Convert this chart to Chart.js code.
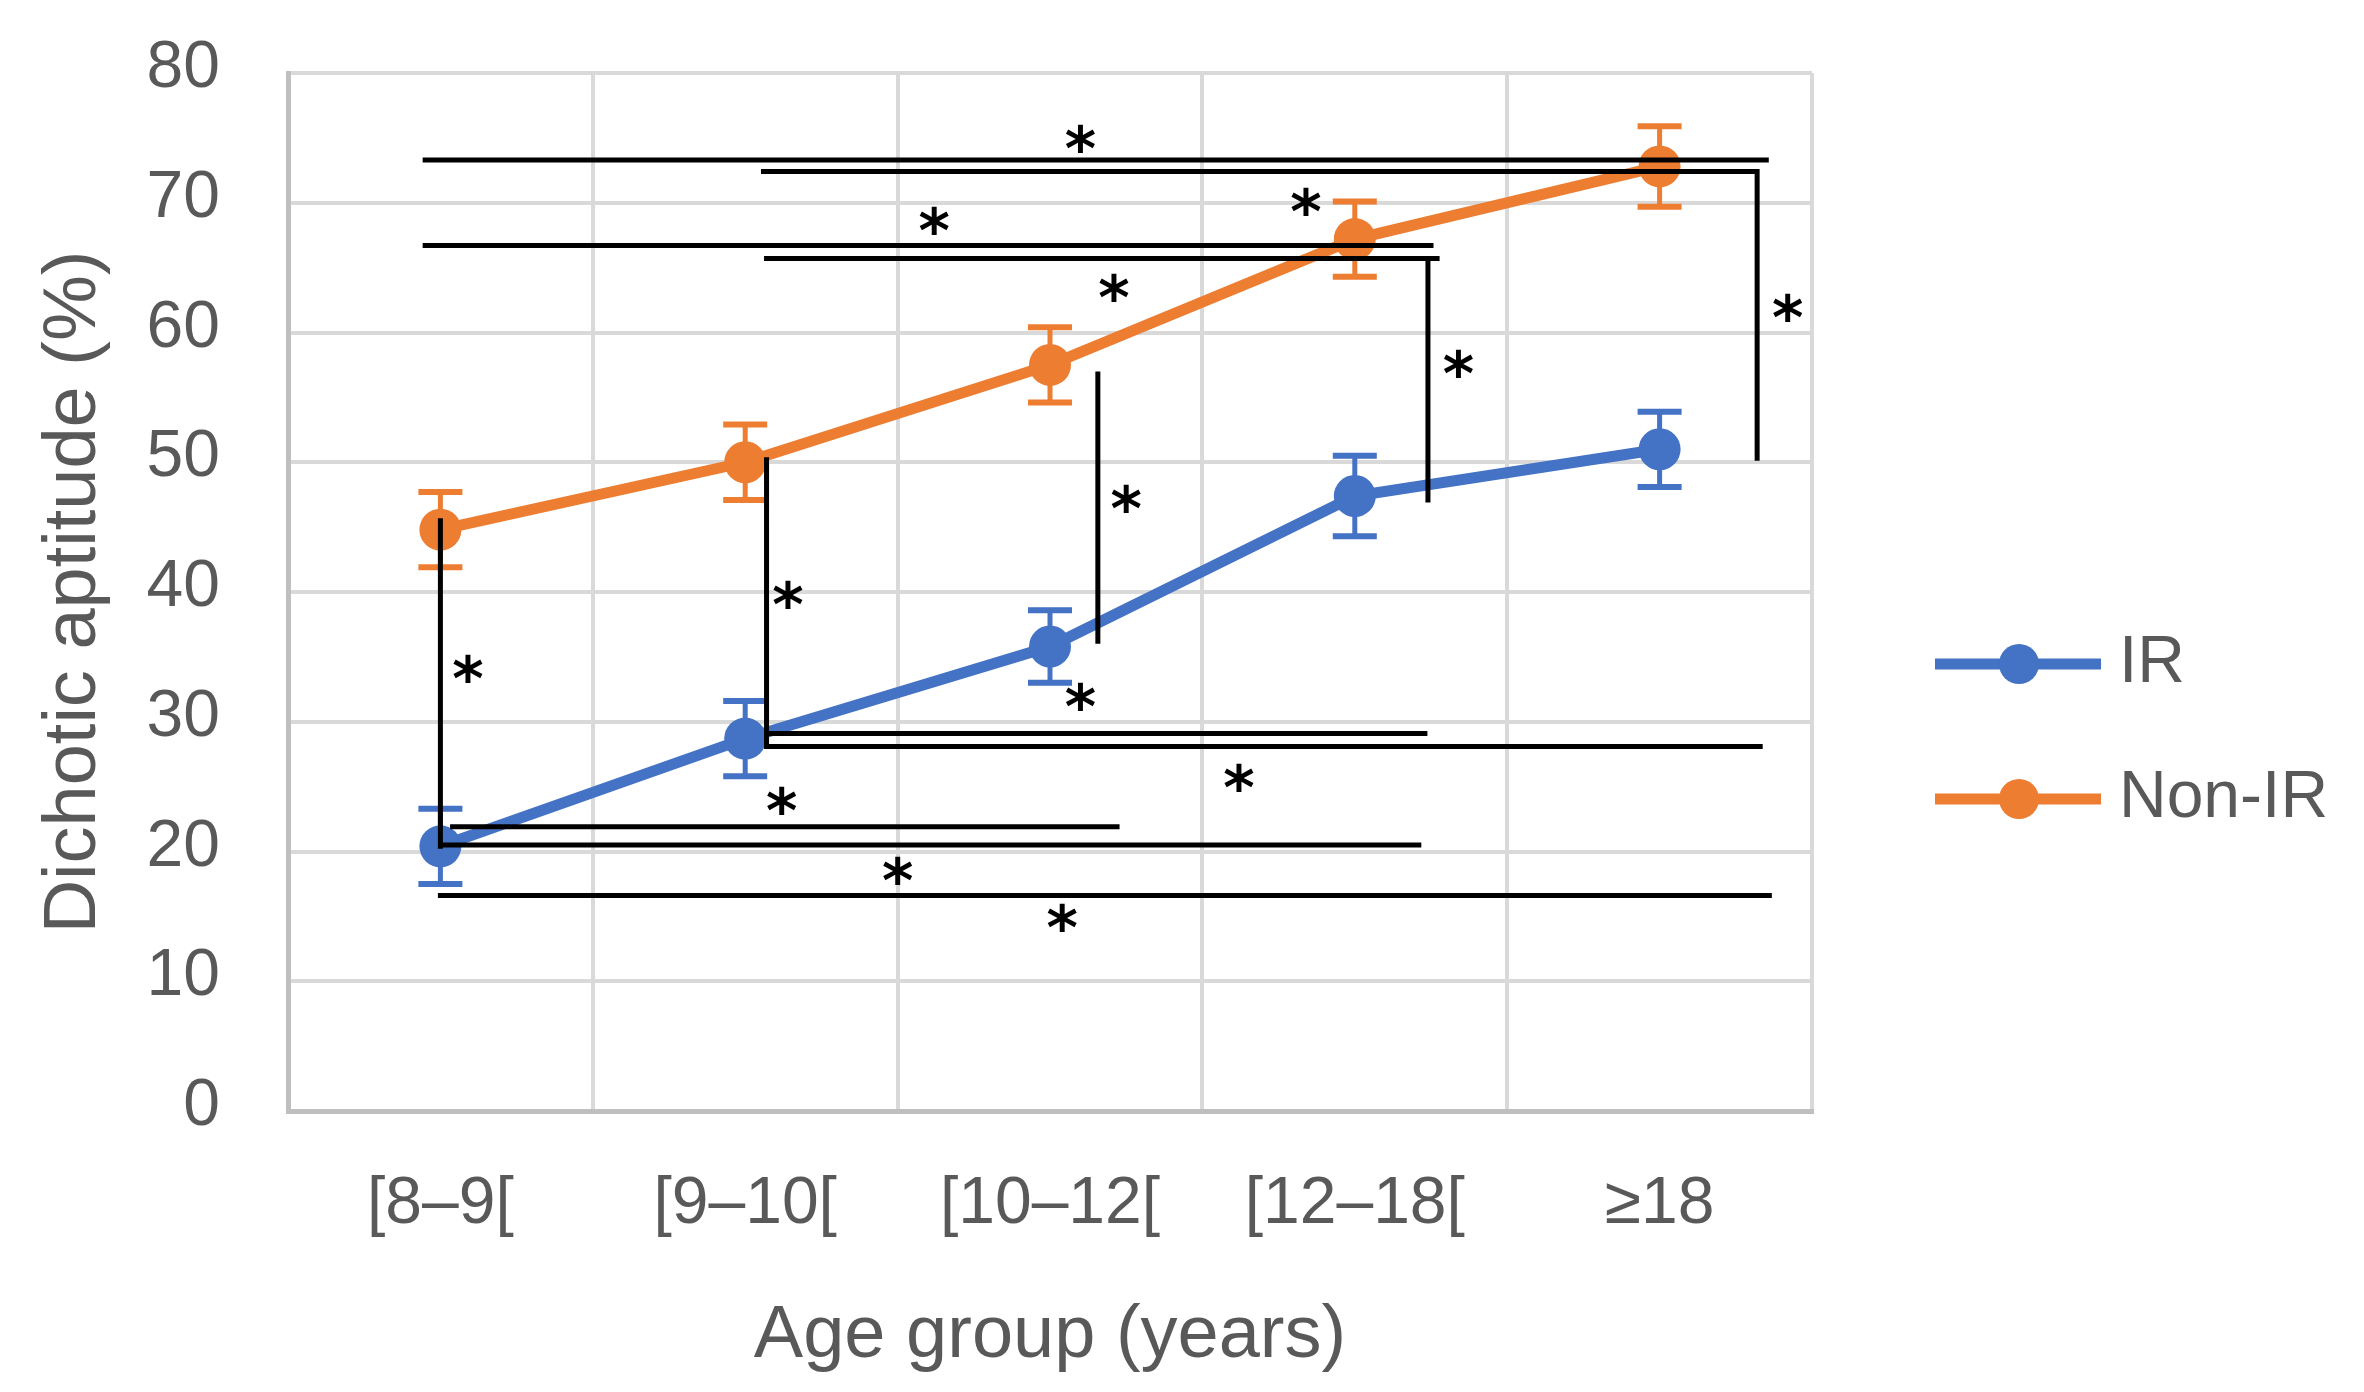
<!DOCTYPE html>
<html>
<head>
<meta charset="utf-8">
<script src="https://cdn.jsdelivr.net/npm/chart.js@4.4.1/dist/chart.umd.min.js"></script>
<style>
  html, body { margin: 0; padding: 0; background: #fff; }
  #chart { display: block; }
</style>
</head>
<body>
<canvas id="chart" width="2364" height="1392"></canvas>
<script>
// categories and series
const ageGroups = ['[8–9[', '[9–10[', '[10–12[', '[12–18[', '≥18'];
const irMeans = [20.4, 28.7, 35.8, 47.4, 51.0];
const irErr = [2.9, 2.9, 2.8, 3.1, 2.9];
const nonIrMeans = [44.8, 50.0, 57.5, 67.2, 72.8];
const nonIrErr = [2.9, 2.9, 2.9, 2.9, 3.1];
const yTicks = [0, 10, 20, 30, 40, 50, 60, 70, 80];

// significance brackets, in category-index / value units
const hLines = [ // [xFrom, xTo, y]
  [-0.05, 4.35, 73.3],
  [1.06, 4.32, 72.4],
  [-0.05, 3.25, 66.7],
  [1.07, 3.27, 65.7],
  [1.07, 3.23, 29.1],
  [1.07, 4.33, 28.1],
  [0.04, 2.22, 21.9],
  [0.0, 3.21, 20.5],
  [0.0, 4.36, 16.6]
];
const vLines = [ // [x, yFrom, yTo]
  [0.0, 45.5, 20.4],
  [1.07, 50.2, 28.1],
  [2.157, 56.8, 36.2],
  [3.24, 65.7, 47.1],
  [4.32, 72.4, 50.3]
];
const stars = [ // [x, y]
  [2.10, 75.2], [1.62, 68.9], [2.84, 70.4], [2.21, 63.7],
  [3.34, 57.9], [4.42, 62.2], [2.25, 47.5], [1.14, 40.1],
  [0.09, 34.4], [2.10, 32.2], [2.62, 26.0], [1.12, 24.2],
  [1.50, 18.8], [2.04, 15.2]
];

const textColor = '#595959';
const family = "'Liberation Sans', Arial, sans-serif";
const tickFont = { family: family, size: 66, lineHeight: 1.2 };
const titleFont = { family: family, size: 74, lineHeight: 1 };

const errorBars = {
  id: 'errorBars',
  beforeDatasetsDraw(chart) {
    const ctx = chart.ctx;
    const x = chart.scales.x, y = chart.scales.y;
    const sets = [[irMeans, irErr, '#4472c4'], [nonIrMeans, nonIrErr, '#ed7d31']];
    ctx.save();
    sets.forEach(([m, e, c]) => {
      ctx.strokeStyle = c;
      m.forEach((v, i) => {
        const px = x.getPixelForValue(i);
        const top = y.getPixelForValue(v + e[i]);
        const bot = y.getPixelForValue(v - e[i]);
        ctx.lineWidth = 5;
        ctx.beginPath();
        ctx.moveTo(px, top); ctx.lineTo(px, bot);
        ctx.stroke();
        ctx.lineWidth = 6;
        ctx.beginPath();
        ctx.moveTo(px - 22, top); ctx.lineTo(px + 22, top);
        ctx.moveTo(px - 22, bot); ctx.lineTo(px + 22, bot);
        ctx.stroke();
      });
    });
    ctx.restore();
  }
};

const brackets = {
  id: 'brackets',
  afterDatasetsDraw(chart) {
    const ctx = chart.ctx;
    const x = chart.scales.x, y = chart.scales.y;
    ctx.save();
    ctx.strokeStyle = '#000';
    ctx.lineWidth = 5;
    ctx.lineCap = 'square';
    ctx.beginPath();
    hLines.forEach(([a, b, v]) => {
      ctx.moveTo(x.getPixelForValue(a), y.getPixelForValue(v));
      ctx.lineTo(x.getPixelForValue(b), y.getPixelForValue(v));
    });
    vLines.forEach(([a, v1, v2]) => {
      ctx.moveTo(x.getPixelForValue(a), y.getPixelForValue(v1));
      ctx.lineTo(x.getPixelForValue(a), y.getPixelForValue(v2));
    });
    ctx.stroke();
    ctx.fillStyle = '#000';
    ctx.font = "bold 60px 'DejaVu Sans'";
    ctx.textAlign = 'center';
    ctx.textBaseline = 'alphabetic';
    stars.forEach(([a, v]) => {
      ctx.fillText('*', x.getPixelForValue(a), y.getPixelForValue(v) + 35);
    });
    ctx.restore();
  }
};

const sideLegend = {
  id: 'sideLegend',
  afterDraw(chart) {
    const ctx = chart.ctx;
    const area = chart.chartArea;
    ctx.save();
    chart.data.datasets.forEach((ds, i) => {
      const cy = 664 + i * 135;
      const x0 = area.right + 123;
      ctx.strokeStyle = ds.borderColor;
      ctx.lineWidth = 11;
      ctx.beginPath();
      ctx.moveTo(x0, cy); ctx.lineTo(x0 + 166, cy);
      ctx.stroke();
      ctx.fillStyle = ds.borderColor;
      ctx.beginPath();
      ctx.arc(x0 + 84, cy, 20, 0, Math.PI * 2);
      ctx.fill();
      ctx.fillStyle = textColor;
      ctx.font = "66px 'Liberation Sans'";
      ctx.textAlign = 'left';
      ctx.textBaseline = 'middle';
      ctx.fillText(ds.label, x0 + 184, cy);
    });
    ctx.restore();
  }
};

new Chart(document.getElementById('chart'), {
  type: 'line',
  data: {
    labels: ageGroups,
    datasets: [
      {
        label: 'IR',
        data: irMeans,
        borderColor: '#4472c4',
        backgroundColor: '#4472c4',
        borderWidth: 11,
        pointRadius: 21,
        pointHoverRadius: 21,
        pointBorderWidth: 0,
        tension: 0
      },
      {
        label: 'Non-IR',
        data: nonIrMeans,
        borderColor: '#ed7d31',
        backgroundColor: '#ed7d31',
        borderWidth: 11,
        pointRadius: 21,
        pointHoverRadius: 21,
        pointBorderWidth: 0,
        tension: 0
      }
    ]
  },
  options: {
    responsive: false,
    animation: false,
    devicePixelRatio: 1,
    layout: { padding: { left: 0, top: 73, right: 552, bottom: 0 } },
    plugins: {
      legend: { display: false },
      tooltip: { enabled: false }
    },
    scales: {
      x: {
        type: 'category',
        offset: true,
        grid: { offset: true, color: '#d9d9d9', lineWidth: 4, drawTicks: false },
        border: { color: '#bfbfbf', width: 5 },
        ticks: { color: textColor, font: tickFont, padding: 54, maxRotation: 0 },
        title: {
          display: true,
          text: 'Age group (years)',
          color: textColor,
          font: titleFont,
          padding: { top: 0, bottom: 18 }
        },
        afterFit(scale) { scale.height = 281; }
      },
      y: {
        min: 0,
        max: 80,
        afterBuildTicks(scale) { scale.ticks = yTicks.map(v => ({ value: v })); },
        grid: { color: '#d9d9d9', lineWidth: 4, drawTicks: false },
        border: { color: '#bfbfbf', width: 5 },
        ticks: { color: textColor, font: tickFont, padding: 68, labelOffset: -4 },
        title: {
          display: true,
          text: 'Dichotic aptitude (%)',
          color: textColor,
          font: titleFont,
          padding: { top: 38, bottom: 0 }
        },
        afterFit(scale) {
          scale.width = 288;
          scale.paddingTop = 0;
          scale.paddingBottom = 0;
        }
      }
    }
  },
  plugins: [errorBars, brackets, sideLegend]
});
</script>
</body>
</html>
